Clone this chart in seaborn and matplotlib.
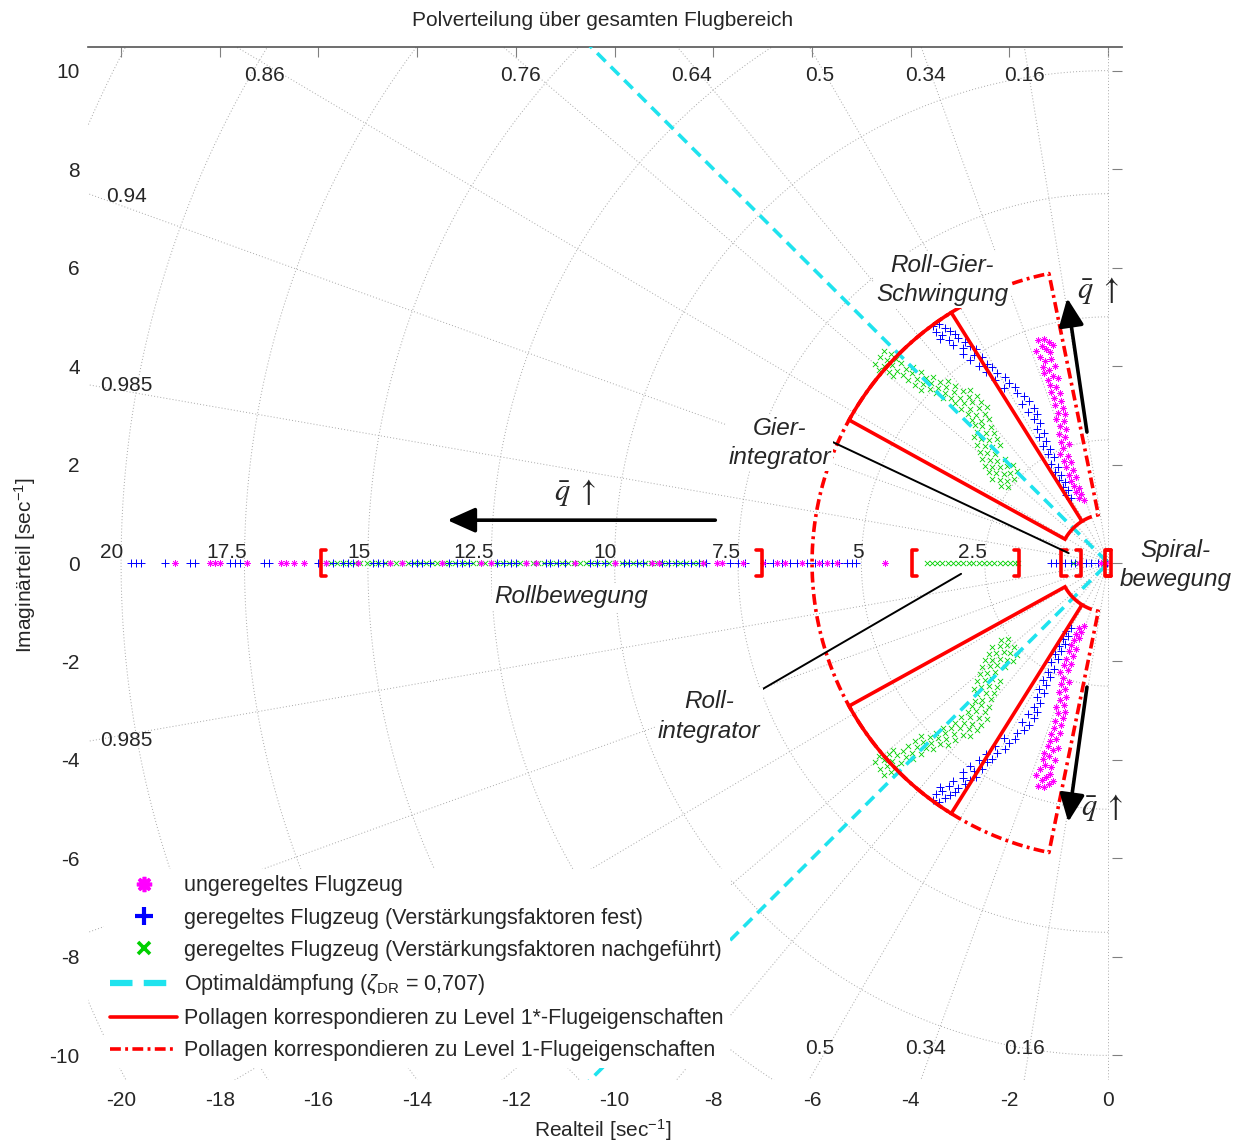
import numpy as np
import pandas as pd
import matplotlib
matplotlib.use("Agg")
import matplotlib.pyplot as plt
from matplotlib.lines import Line2D
import seaborn as sns

# ---------------------------------------------------------------
# Pole data (complex poles given for the upper half plane; the
# conjugate partners are mirrored at the real axis)
# ---------------------------------------------------------------
ung_re = [-1.42, -1.30, -1.20, -1.35, -1.25, -1.12, -1.46, -1.18,
          -1.38, -1.27, -1.15, -1.33, -1.20, -1.08, -1.30, -1.12, -1.22, -1.02,
          -1.18, -1.05, -1.15, -0.98, -1.10, -0.95, -1.08, -0.92, -1.02, -0.88,
          -1.05, -0.90, -0.98, -0.85, -1.00, -0.88, -0.95, -0.80, -0.92,
          -0.98, -0.82, -0.90, -0.75, -0.85, -0.72, -0.80, -0.66, -0.76,
          -0.70, -0.60, -0.66, -0.55, -0.60, -0.48]
ung_im = [4.52, 4.55, 4.48, 4.40, 4.35, 4.42, 4.30, 4.28,
          4.18, 4.10, 4.15, 3.98, 3.92, 4.00, 3.85, 3.80, 3.72, 3.75,
          3.62, 3.58, 3.48, 3.45, 3.35, 3.30, 3.20, 3.15, 3.05, 3.02,
          2.92, 2.88, 2.78, 2.72, 2.62, 2.55, 2.45, 2.42, 2.33,
          2.22, 2.18, 2.08, 2.05, 1.95, 1.88, 1.78, 1.74, 1.66,
          1.56, 1.52, 1.44, 1.40, 1.32, 1.28]

fest_re = [-3.55, -3.42, -3.30, -3.48, -3.20, -3.36, -3.10,
           -3.40, -3.22, -3.05, -2.90, -3.15, -2.80, -2.95, -2.68,
           -2.95, -2.72, -2.55, -2.80, -2.45, -2.62, -2.35,
           -2.48, -2.25, -2.10, -2.30, -2.00, -1.88, -2.12,
           -1.85, -1.70, -1.60, -1.75, -1.50, -1.62, -1.45,
           -1.50, -1.38, -1.45, -1.30, -1.40, -1.25, -1.32, -1.18,
           -1.22, -1.10, -1.15, -1.02, -1.08, -0.95, -1.00, -0.88,
           -0.92, -0.82, -0.86, -0.76]
fest_im = [4.82, 4.86, 4.78, 4.70, 4.72, 4.64, 4.66,
           4.55, 4.52, 4.56, 4.48, 4.42, 4.40, 4.36, 4.35,
           4.25, 4.22, 4.18, 4.12, 4.05, 4.00, 3.98,
           3.88, 3.85, 3.78, 3.72, 3.66, 3.58, 3.55,
           3.45, 3.40, 3.30, 3.22, 3.15, 3.06, 3.02,
           2.92, 2.85, 2.72, 2.65, 2.55, 2.48, 2.38, 2.32,
           2.22, 2.15, 2.02, 1.95, 1.85, 1.78, 1.68, 1.64,
           1.55, 1.48, 1.38, 1.32]

nach_re = [-4.55, -4.40, -4.62, -4.48, -4.30, -4.72, -4.55, -4.38, -4.20,
           -4.65, -4.45, -4.28, -4.10, -3.95, -4.35, -4.15, -3.98, -3.80,
           -4.05, -3.88, -3.70, -3.55, -3.92, -3.75, -3.58, -3.40, -3.25,
           -3.80, -3.62, -3.45, -3.28, -3.10, -3.48, -3.30, -3.12, -2.95, -2.80,
           -3.35, -3.18, -3.00, -2.82, -2.65, -3.10, -2.92, -2.75, -2.58,
           -2.98, -2.80, -2.62, -2.45, -2.85, -2.68, -2.50, -2.75, -2.58, -2.42,
           -2.70, -2.55, -2.38, -2.65, -2.48, -2.32, -2.72, -2.58, -2.42, -2.26,
           -2.65, -2.50, -2.35, -2.20, -2.60, -2.45, -2.30,
           -2.55, -2.40, -2.25, -2.10, -2.50, -2.35, -2.20, -2.05, -1.92,
           -2.42, -2.28, -2.12, -1.98, -1.85, -2.35, -2.20, -2.05, -1.90,
           -2.18, -2.02]
nach_im = [4.30, 4.25, 4.18, 4.12, 4.15, 4.05, 4.00, 4.02, 4.06,
           3.92, 3.88, 3.90, 3.95, 3.98, 3.80, 3.82, 3.85, 3.88,
           3.72, 3.74, 3.76, 3.78, 3.62, 3.64, 3.66, 3.68, 3.70,
           3.52, 3.54, 3.56, 3.58, 3.60, 3.45, 3.46, 3.48, 3.50, 3.52,
           3.36, 3.35, 3.36, 3.38, 3.40, 3.25, 3.24, 3.26, 3.28,
           3.12, 3.13, 3.15, 3.17, 3.02, 3.00, 3.02, 2.90, 2.88, 2.92,
           2.80, 2.78, 2.76, 2.66, 2.65, 2.64, 2.55, 2.52, 2.50, 2.52,
           2.40, 2.38, 2.36, 2.40, 2.26, 2.24, 2.22,
           2.12, 2.10, 2.08, 2.12, 1.98, 1.96, 1.94, 1.97, 2.00,
           1.84, 1.82, 1.80, 1.83, 1.86, 1.70, 1.68, 1.66, 1.70,
           1.56, 1.54]

# real poles
ung_real = [-18.9, -18.2, -18.1, -18.0, -17.45, -16.75, -16.65, -16.5, -16.3,
            -15.85, -15.2, -14.55, -14.3, -13.5, -12.7, -12.5, -11.8, -11.6,
            -10.8, -10.0, -9.25, -9.1, -8.2, -7.92, -7.82, -7.4, -7.0, -6.7,
            -6.55, -6.2, -5.85, -5.7, -5.5, -4.52, -0.6, -0.15, -0.05]
fest_real = [-19.8, -19.7, -19.6, -19.1, -18.6, -18.5, -17.8, -17.7, -17.6,
             -17.1, -17.0, -16.0, -15.7, -15.5, -15.4, -15.3, -14.9, -14.8,
             -14.7, -14.1, -14.0, -13.9, -13.75, -13.35, -13.2, -13.1, -12.95,
             -12.38, -12.25, -12.1, -11.99, -11.4, -11.3, -11.15, -11.0, -10.5,
             -10.35, -10.2, -9.82, -9.7, -9.55, -9.43, -9.03, -8.9, -8.75, -8.6,
             -8.45, -8.3, -8.15, -7.66, -7.5, -7.35, -6.95, -6.8, -6.6, -6.45,
             -6.3, -6.1, -5.95, -5.8, -5.6, -5.45, -5.3, -5.2, -5.1,
             -1.15, -1.05, -0.98, -0.88, -0.75, -0.68, -0.55, -0.45, -0.35,
             -0.2, -0.1, -0.03]
nach_real = [-15.85, -15.74, -15.62, -15.51, -15.38, -15.27, -15.15, -15.02,
             -14.91, -14.79, -14.66, -14.55, -14.43, -14.31, -14.18, -14.07,
             -13.95, -13.82, -13.71, -13.59, -13.46, -13.35, -13.23, -13.1,
             -12.99, -12.87, -12.74, -12.63, -12.51, -12.38, -12.27, -12.15,
             -12.02, -11.91, -11.79, -11.66, -11.55, -11.43, -11.3, -11.19,
             -11.07, -10.94, -10.83, -10.71, -10.58, -10.47, -10.35, -10.22,
             -10.11, -9.99, -9.86, -9.75, -9.63, -9.5, -9.39, -9.27, -9.14,
             -9.03, -8.91, -8.78, -8.67, -8.55, -8.42, -8.31, -8.19,
             -3.67, -3.57, -3.46, -3.36, -3.25, -3.15, -3.04, -2.94, -2.83,
             -2.73, -2.62, -2.52, -2.41, -2.31, -2.2, -2.1, -1.99, -1.89, -1.82,
             -0.72, -0.62, -0.08]

# s-plane grid: damping ratios and natural frequencies
zeta_grid = [0.16, 0.34, 0.5, 0.64, 0.76, 0.86, 0.94, 0.985]
wn_grid = [2.5, 5.0, 7.5, 10.0, 12.5, 15.0, 17.5, 20.0, 22.5]
wn_labels = ["20", "17.5", "15", "12.5", "10", "7.5", "5", "2.5"]
zeta_top_labels = ["0.86", "0.76", "0.64", "0.5", "0.34", "0.16"]
zeta_bottom_labels = ["0.5", "0.34", "0.16"]
zeta_side_labels = ["0.94", "0.985"]

# handling-qualities regions
zeta_opt = 0.707
level1star_zeta = (0.53, 0.875)
level1_zeta_min = 0.2
level_wn = (1.0, 6.0)

# bracketed pole groups on the real axis
bracket_ranges = [(-15.95, -7.02), (-3.98, -1.80), (-0.95, -0.55), (-0.06, 0.06)]

# q-bar trend arrows (tail, head)
arrows = [((-7.96, 0.87), (-13.39, 0.87)),
          ((-0.43, 2.66), (-0.83, 5.38)),
          ((-0.43, -2.52), (-0.81, -5.26))]

# leader lines for labels
leaders = [((-5.80, 2.56), (-0.80, 0.20)),
           ((-7.31, -2.74), (-2.98, -0.22))]

# ---------------------------------------------------------------
sns.set_theme(style="white")
plt.rcParams["font.family"] = ["Liberation Sans", "DejaVu Sans"]
plt.rcParams["mathtext.fontset"] = "custom"
plt.rcParams["mathtext.rm"] = "Liberation Sans"
plt.rcParams["mathtext.it"] = "Liberation Sans:italic"
plt.rcParams["mathtext.bf"] = "Liberation Sans:bold"
plt.rcParams["axes.unicode_minus"] = False

C_MAG = "#ff00ff"
C_BLUE = "#0000ff"
C_GREEN = "#00d000"
C_CYAN = "#1fe3ee"
C_RED = "#ff0000"
C_GRID = "#a8a8a8"
GRID_LS = (0, (1.0, 2.2))
FS = 15

fig = plt.figure(figsize=(12.42, 11.44), dpi=100)
ax = fig.add_axes([88 / 1242, 1 - 1080 / 1144, (1122 - 88) / 1242, (1080 - 47) / 1144])
ax.set_xlim(-20.67, 0.28)
ax.set_ylim(-10.5, 10.48)


def pole_frame(re, im, real):
    xs = list(re) + list(re) + list(real)
    ys = list(im) + [-v for v in im] + [0.0] * len(real)
    return pd.DataFrame({"Re": xs, "Im": ys})


df_ung = pole_frame(ung_re, ung_im, ung_real)
df_fest = pole_frame(fest_re, fest_im, fest_real)
df_nach = pole_frame(nach_re, nach_im, nach_real)

# --- s-plane grid (sgrid style) ---
theta = np.linspace(np.pi / 2, 3 * np.pi / 2, 600)
for wn in wn_grid:
    ax.plot(wn * np.cos(theta), wn * np.sin(theta), ls=GRID_LS, color=C_GRID, lw=0.7, zorder=1)
R = 40.0
for z in zeta_grid:
    s = np.sqrt(1 - z ** 2)
    ax.plot([0, -R * z], [0, R * s], ls=GRID_LS, color=C_GRID, lw=0.7, zorder=1)
    ax.plot([0, -R * z], [0, -R * s], ls=GRID_LS, color=C_GRID, lw=0.7, zorder=1)
ax.axvline(0, ls=GRID_LS, color=C_GRID, lw=0.7, zorder=1)

for wn, lab in zip(wn_grid[::-1][1:], wn_labels):
    ax.text(-wn + 0.05, 0.1, lab, ha="right", va="baseline", fontsize=FS, zorder=2)

# damping-ratio labels (the lower-left ones lie under the legend)
top_x = [-17.1, -11.9, -8.45, -5.84, -3.7, -1.7]
for x, lab in zip(top_x, zeta_top_labels):
    ax.text(x, 9.91, lab, ha="center", va="center", fontsize=FS, zorder=2)
for x, lab in zip(top_x[3:], zeta_bottom_labels):
    ax.text(x, -9.87, lab, ha="center", va="center", fontsize=FS, zorder=2)
side_y = [7.45, 3.6]
for y, lab in zip(side_y, zeta_side_labels):
    ax.text(-19.9, y, lab, ha="center", va="center", fontsize=FS, zorder=2)
ax.text(-19.9, -side_y[1], zeta_side_labels[1], ha="center", va="center", fontsize=FS, zorder=2)

# --- poles ---
sns.scatterplot(data=df_nach, x="Re", y="Im", marker="x", color=C_GREEN, s=14,
                linewidth=0.6, legend=False, ax=ax, zorder=3)
sns.scatterplot(data=df_fest, x="Re", y="Im", marker="+", color=C_BLUE, s=34,
                linewidth=0.7, legend=False, ax=ax, zorder=3)
sns.scatterplot(data=df_ung, x="Re", y="Im", marker=(8, 2, 0), color=C_MAG, s=20,
                linewidth=0.5, legend=False, ax=ax, zorder=3)

# --- optimal damping line ---
so = np.sqrt(1 - zeta_opt ** 2)
cyan_ls = (0, (3.3, 2.0))
ax.plot([-R * zeta_opt, 0, -R * zeta_opt], [R * so, 0, -R * so], color=C_CYAN, lw=2.6,
        ls=cyan_ls, zorder=4)


# --- handling-qualities regions ---
def ang(z):
    return np.arccos(z)


def arc(r, z0, z1, sign):
    a = np.linspace(ang(z0), ang(z1), 200)
    return -r * np.cos(a), sign * r * np.sin(a)


dashdot = (0, (3.0, 1.2, 0.8, 1.2))
w0, w1 = level_wn
for sign in (1, -1):
    # level 1*: solid sector
    za, zb = level1star_zeta
    xo, yo = arc(w1, za, zb, sign)
    xi, yi = arc(w0, zb, za, sign)
    px = np.concatenate([xo, xi, xo[:1]])
    py = np.concatenate([yo, yi, yo[:1]])
    ax.plot(px, py, color=C_RED, lw=2.6, zorder=5, solid_joinstyle="miter")
    # level 1: dash-dot boundary
    xo, yo = arc(w1, level1_zeta_min, 1.0, sign)
    s1 = np.sqrt(1 - level1_zeta_min ** 2)
    xi, yi = arc(w0, za, level1_zeta_min, sign)
    px = np.concatenate([xi, [-w1 * level1_zeta_min], xo])
    py = np.concatenate([yi, [sign * w1 * s1], yo])
    ax.plot(px, py, color=C_RED, lw=2.6, ls=dashdot, zorder=4.5)

# --- brackets ---
bh, bs = 0.27, 0.11
for a, b in bracket_ranges:
    ax.plot([a + bs, a, a, a + bs], [bh, bh, -bh, -bh], color=C_RED, lw=2.6, zorder=6)
    ax.plot([b - bs, b, b, b - bs], [bh, bh, -bh, -bh], color=C_RED, lw=2.6, zorder=6)

# --- arrows and leader lines ---
for tail, head in arrows:
    ax.annotate("", xy=head, xytext=tail, zorder=7,
                arrowprops=dict(arrowstyle="-|>,head_length=0.85,head_width=0.38",
                                lw=2.6, color="black", mutation_scale=20,
                                shrinkA=0, shrinkB=0))
for p0, p1 in leaders:
    ax.plot([p0[0], p1[0]], [p0[1], p1[1]], color="black", lw=1.4, zorder=7)

# --- labels ---
box = dict(facecolor="white", edgecolor="none", pad=1.5)
IFS = 17.5
LSP = 1.35
ax.text(-3.36, 5.75, "Roll-Gier-\nSchwingung", ha="center", va="center", style="italic",
        fontsize=IFS, linespacing=LSP, bbox=box, zorder=8)
ax.text(-6.65, 2.44, "Gier-\nintegrator", ha="center", va="center", style="italic",
        fontsize=IFS, linespacing=LSP, bbox=box, zorder=8)
ax.text(-8.08, -3.12, "Roll-\nintegrator", ha="center", va="center", style="italic",
        fontsize=IFS, linespacing=LSP, bbox=box, zorder=8)
ax.text(1.36, -0.04, "Spiral-\nbewegung", ha="center", va="center", style="italic",
        fontsize=IFS, linespacing=LSP, zorder=8, clip_on=False)
ax.text(-10.88, -0.69, "Rollbewegung", ha="center", va="center", style="italic",
        fontsize=IFS, bbox=box, zorder=8)

qpos = [(-10.8, 1.44), (-0.20, 5.54), (-0.12, -4.97)]
for x, y in qpos:
    ax.text(x, y, r"$\bar{q}\ \uparrow$", ha="center", va="center", fontsize=22,
            math_fontfamily="stix", zorder=8, clip_on=False)

# --- axes styling ---
ax.set_xticks(np.arange(-20, 1, 2))
ax.set_yticks(np.arange(-10, 11, 2))
ax.tick_params(direction="in", length=7, width=0.8, color="#808080", top=True, right=True,
               labeltop=False, labelright=False, labelsize=FS)
ax.tick_params(axis="x", pad=8)
ax.tick_params(axis="y", pad=6)
for side in ("left", "right", "bottom"):
    ax.spines[side].set_visible(False)
ax.spines["top"].set_color("#555555")
ax.spines["top"].set_linewidth(1.2)
ax.set_xlabel("")
ax.set_ylabel("")

fig.text(603 / 1242, 1 - 20 / 1144, "Polverteilung über gesamten Flugbereich",
         ha="center", va="center", fontsize=FS)
fig.text(603 / 1242, 1 - 1137 / 1144, r"Realteil [sec$^{-1}$]", ha="center",
         va="baseline", fontsize=FS)
fig.text(25 / 1242, 1 - 565 / 1144, r"Imaginärteil [sec$^{-1}$]", ha="center",
         va="center", rotation=90, fontsize=FS)

# --- legend ---
handles = [
    Line2D([], [], ls="none", marker=(8, 2, 0), color=C_MAG, markersize=11, mew=2.6),
    Line2D([], [], ls="none", marker="+", color=C_BLUE, markersize=13, mew=3.0),
    Line2D([], [], ls="none", marker="x", color=C_GREEN, markersize=8, mew=2.6),
    Line2D([], [], color=C_CYAN, lw=4.5, ls=(0, (3.6, 1.8))),
    Line2D([], [], color=C_RED, lw=2.6),
    Line2D([], [], color=C_RED, lw=2.6, ls=dashdot),
]
labels = [
    "ungeregeltes Flugzeug",
    "geregeltes Flugzeug (Verstärkungsfaktoren fest)",
    "geregeltes Flugzeug (Verstärkungsfaktoren nachgeführt)",
    r"Optimaldämpfung ($\zeta_{\mathrm{DR}}$ = 0,707)",
    "Pollagen korrespondieren zu Level 1*-Flugeigenschaften",
    "Pollagen korrespondieren zu Level 1-Flugeigenschaften",
]
leg = ax.legend(handles, labels, loc="upper left",
                bbox_to_anchor=((104 - 88) / 1034, (1080 - 869) / 1033),
                frameon=True, framealpha=1, facecolor="white", edgecolor="none",
                fancybox=False, fontsize=15.5, handlelength=3.1, handletextpad=0.33,
                labelspacing=0.52, borderpad=0.3, borderaxespad=0)
leg.set_zorder(9)

fig.savefig("out.png", dpi=100)
